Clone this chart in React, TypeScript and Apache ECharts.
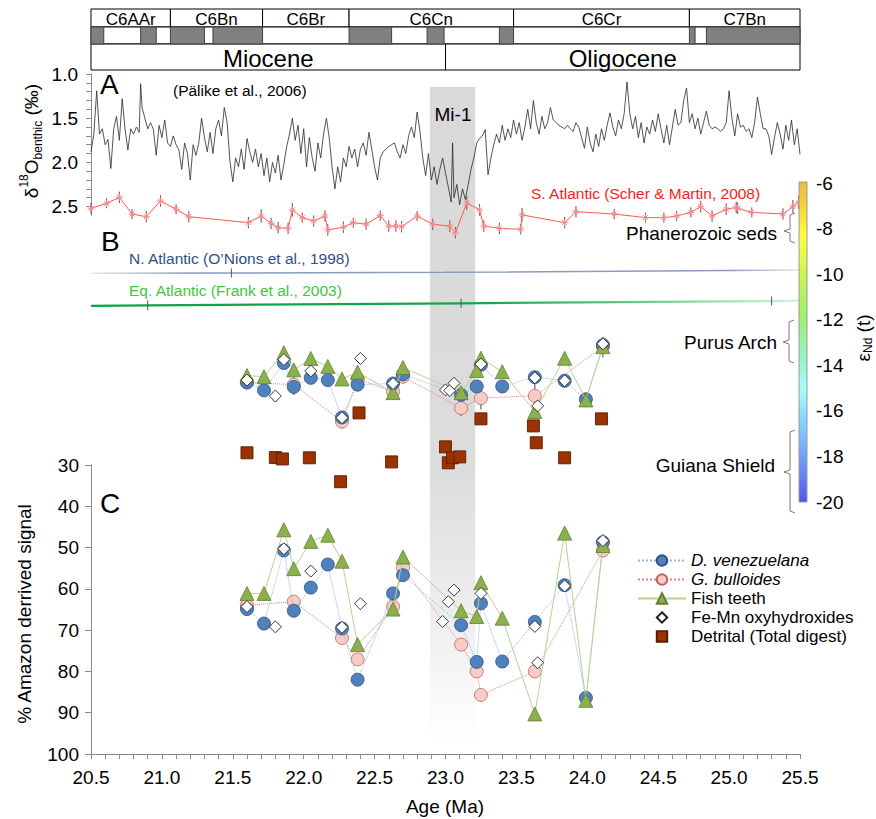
import React, { useEffect, useRef } from 'react';
import * as echarts from 'echarts';

const FONT = '"Liberation Sans", Arial, Helvetica, sans-serif';

// ---- Magnetostratigraphy / epochs ----
const chronNames = ['C6AAr', 'C6Bn', 'C6Br', 'C6Cn', 'C6Cr', 'C7Bn'];
const chronBounds = [20.5, 21.06, 21.71, 22.32, 23.48, 24.72, 25.5];
const normalPolarity: [number, number][] = [
  [20.5, 20.59], [20.85, 20.96], [21.06, 21.3], [21.36, 21.71], [22.32, 22.62],
  [22.87, 22.99], [23.38, 23.48], [24.72, 24.76], [24.84, 25.5],
];
const epochNames = ['Miocene', 'Oligocene'];
const epochBounds = [20.5, 23.0, 25.5];
const mi1Band: [number, number] = [22.89, 23.21];

// ---- Panel A: benthic d18O (Pälike et al., 2006) ----
const d18O: [number, number][] = [
  [20.50,1.88],[20.52,1.68],[20.54,1.19],[20.56,1.68],[20.58,1.62],[20.60,1.80],[20.62,1.74],[20.64,2.07],[20.66,1.62],[20.68,1.48],
  [20.70,1.75],[20.72,1.28],[20.74,1.62],[20.76,1.86],[20.78,1.62],[20.80,1.68],[20.82,1.60],[20.84,1.66],[20.85,1.11],[20.86,1.38],
  [20.88,1.50],[20.90,1.62],[20.92,1.55],[20.94,1.63],[20.96,1.92],[20.98,1.58],[21.00,1.72],[21.02,1.52],[21.04,1.78],[21.06,1.82],
  [21.08,1.70],[21.10,1.80],[21.12,1.86],[21.14,2.08],[21.16,1.78],[21.18,1.90],[21.20,2.20],[21.22,1.80],[21.24,1.92],[21.26,1.78],
  [21.28,1.50],[21.30,1.72],[21.32,1.88],[21.34,1.66],[21.36,1.90],[21.38,1.62],[21.40,1.52],[21.42,1.70],[21.44,1.38],[21.46,1.55],
  [21.48,1.99],[21.50,2.22],[21.52,1.95],[21.54,2.05],[21.56,1.85],[21.58,2.08],[21.60,1.73],[21.62,1.88],[21.64,2.00],[21.66,1.85],
  [21.68,2.05],[21.70,1.90],[21.72,2.15],[21.74,1.95],[21.76,2.22],[21.78,2.00],[21.80,2.12],[21.82,1.92],[21.84,2.20],[21.86,2.02],
  [21.88,1.82],[21.90,1.68],[21.92,1.50],[21.94,1.75],[21.96,1.58],[21.98,1.90],[22.00,1.62],[22.02,2.05],[22.04,1.72],[22.06,1.95],
  [22.08,2.10],[22.10,1.78],[22.12,1.95],[22.14,1.68],[22.16,1.50],[22.18,1.72],[22.20,2.05],[22.22,2.30],[22.24,2.05],[22.26,2.22],
  [22.28,1.95],[22.30,2.05],[22.32,1.82],[22.34,1.95],[22.36,1.85],[22.38,2.05],[22.40,1.85],[22.42,1.78],[22.44,1.92],[22.46,1.66],
  [22.48,1.85],[22.50,2.05],[22.52,2.20],[22.54,1.95],[22.56,1.88],[22.58,1.85],[22.60,1.82],[22.62,1.80],[22.64,1.78],[22.66,1.88],
  [22.68,1.95],[22.70,1.80],[22.72,1.90],[22.74,1.70],[22.76,1.60],[22.78,1.72],[22.80,1.43],[22.82,1.65],[22.84,1.95],[22.86,2.15],
  [22.88,1.90],[22.90,2.20],[22.92,2.05],[22.94,2.25],[22.96,2.08],[22.98,1.95],[23.00,2.12],[23.02,2.28],[23.04,2.45],[23.05,1.78],
  [23.06,2.40],[23.08,2.25],[23.10,2.48],[23.12,2.30],[23.14,2.42],[23.16,2.25],[23.18,2.08],[23.20,1.95],[23.22,1.78],[23.24,1.73],
  [23.26,1.70],[23.28,1.63],[23.30,2.14],[23.32,1.95],[23.34,1.80],[23.36,1.68],[23.38,1.78],[23.40,1.58],[23.42,1.75],[23.44,1.62],
  [23.46,1.72],[23.48,1.52],[23.50,1.68],[23.52,1.55],[23.54,1.75],[23.56,1.60],[23.58,1.40],[23.60,1.62],[23.62,1.30],[23.64,1.55],
  [23.66,1.68],[23.68,1.48],[23.70,1.62],[23.72,1.55],[23.74,1.38],[23.76,1.52],[23.78,1.55],[23.80,1.58],[23.82,1.60],[23.84,1.62],
  [23.86,1.58],[23.88,1.62],[23.90,1.65],[23.92,1.55],[23.94,1.60],[23.96,1.72],[23.98,1.84],[24.00,1.60],[24.02,1.78],[24.04,1.88],
  [24.06,1.68],[24.08,1.82],[24.10,1.62],[24.12,1.75],[24.14,1.58],[24.16,1.44],[24.18,1.60],[24.20,1.70],[24.22,1.52],[24.24,1.62],
  [24.26,1.45],[24.28,1.09],[24.30,1.45],[24.32,1.62],[24.34,1.48],[24.36,1.72],[24.38,1.55],[24.40,1.78],[24.42,1.60],[24.44,1.68],
  [24.46,1.52],[24.48,1.65],[24.50,1.45],[24.52,1.62],[24.54,1.78],[24.56,1.58],[24.58,1.80],[24.60,1.60],[24.62,1.40],[24.64,1.58],
  [24.66,1.55],[24.68,1.30],[24.70,1.16],[24.72,1.55],[24.74,1.45],[24.76,1.62],[24.78,1.50],[24.80,1.68],[24.82,1.55],[24.84,1.42],
  [24.86,1.58],[24.88,1.62],[24.90,1.60],[24.92,1.62],[24.94,1.65],[24.96,1.62],[24.98,1.55],[25.00,1.19],[25.02,1.50],[25.04,1.70],
  [25.06,1.45],[25.08,1.60],[25.10,1.58],[25.12,1.65],[25.14,1.62],[25.16,1.72],[25.18,1.55],[25.20,1.26],[25.22,1.45],[25.24,1.62],
  [25.26,1.62],[25.28,1.70],[25.30,1.91],[25.32,1.72],[25.34,1.55],[25.36,1.68],[25.38,1.85],[25.40,1.58],[25.42,1.75],[25.44,1.52],
  [25.46,1.80],[25.48,1.62],[25.50,1.91],
];

// ---- Panel B: seawater eNd records ----
const sAtlantic: [number, number][] = [
  [20.50,-7.11],[20.61,-6.89],[20.70,-6.63],[20.79,-7.36],[20.89,-7.48],[20.99,-6.79],[21.10,-7.15],[21.19,-7.48],[21.61,-7.74],[21.70,-7.45],
  [21.77,-7.77],[21.82,-7.96],[21.89,-7.99],[21.92,-7.18],[21.99,-7.52],[22.07,-7.67],[22.15,-7.45],[22.17,-8.06],[22.28,-7.94],[22.35,-7.74],
  [22.44,-7.81],[22.54,-7.43],[22.60,-7.89],[22.65,-7.89],[22.69,-7.92],[22.80,-7.45],[22.91,-7.81],[23.03,-7.89],[23.07,-8.18],[23.15,-6.87],
  [23.24,-7.18],[23.27,-7.89],[23.38,-7.99],[23.53,-8.03],[23.54,-7.40],[23.84,-7.74],[23.92,-7.26],[24.19,-7.36],[24.41,-7.52],[24.54,-7.52],
  [24.63,-7.45],[24.73,-7.29],[24.80,-7.04],[24.88,-7.45],[24.98,-7.15],[25.05,-7.07],[25.06,-7.11],[25.16,-7.29],[25.38,-7.36],[25.45,-7.04],
  [25.49,-6.85],
];
const sAtlanticErr = [
  0.25,0.22,0.25,0.22,0.25,0.25,0.22,0.25,0.25,0.3,
  0.25,0.25,0.25,0.3,0.22,0.25,0.25,0.25,0.25,0.22,
  0.25,0.22,0.25,0.25,0.25,0.22,0.25,0.25,0.25,0.3,
  0.25,0.25,0.25,0.22,0.3,0.25,0.25,0.22,0.22,0.22,
  0.22,0.22,0.25,0.25,0.25,0.25,0.25,0.22,0.25,0.3,
  0.3,
];
const nAtlanticLine: [number, number][] = [[20.50,-9.96],[21.49,-9.95],[23.00,-9.92],[25.50,-9.82]];
const nAtlanticPts: [number, number][] = [[21.49,-9.95]];
const nAtlanticErr = [0.2];
const eqAtlanticLine: [number, number][] = [[20.50,-11.39],[20.90,-11.37],[23.11,-11.28],[25.30,-11.18],[25.50,-11.16]];
const eqAtlanticPts: [number, number][] = [[20.90,-11.37],[23.11,-11.28],[25.30,-11.18]];
const eqAtlanticErr = [0.22,0.2,0.2];

// ---- Panel B: Ceara Rise eNd by fraction ----
const dvenB: [number, number][] = [
  [21.60,-14.75],[21.72,-15.10],[21.86,-13.90],[21.93,-14.95],[22.05,-14.55],[22.17,-14.65],[22.27,-16.29],[22.38,-14.85],[22.63,-14.80],
  [22.70,-14.40],[23.11,-15.30],[23.22,-14.93],[23.25,-13.98],[23.40,-14.93],[23.63,-14.52],[23.84,-14.68],[23.99,-15.49],[24.11,-13.11],
];
const gbulB: [number, number][] = [
  [21.60,-14.75],[21.93,-14.85],[22.27,-16.47],[22.38,-14.60],[22.63,-15.15],[22.70,-14.50],[23.11,-15.88],[23.25,-15.44],[23.63,-15.34],[24.11,-13.20],
];
const gbulBErr = [0.3, 0.45, 0.3, 0.35, 0.3, 0.3, 0.35, 0.5, 0.6, 0.45];
const fishB: [number, number][] = [
  [21.60,-14.45],[21.72,-14.50],[21.86,-13.45],[21.93,-14.20],[22.05,-13.70],[22.17,-14.05],[22.27,-14.60],[22.38,-14.30],[22.63,-15.20],
  [22.70,-14.10],[23.11,-15.20],[23.22,-14.23],[23.25,-13.69],[23.40,-14.28],[23.63,-16.03],[23.84,-13.69],[23.99,-15.52],[24.11,-13.18],
];
const feMnB: [number, number][] = [
  [21.60,-14.65],[21.80,-15.35],[21.86,-13.75],[22.05,-14.25],[22.27,-16.30],[22.40,-13.70],[22.63,-14.80],[23.00,-15.08],[23.03,-15.11],
  [23.06,-14.79],[23.25,-13.95],[23.63,-14.55],[23.65,-15.78],[23.84,-14.68],[24.11,-13.06],
];
const detritalB: [number, number][] = [
  [21.60,-17.84],[21.80,-18.05],[21.85,-18.11],[22.04,-18.06],[22.26,-19.11],[22.39,-16.09],[22.62,-18.24],[23.00,-17.58],
  [23.02,-18.28],[23.05,-18.06],[23.10,-18.02],[23.25,-16.35],[23.62,-16.66],[23.64,-17.40],[23.84,-18.06],[24.10,-16.35],
];

// ---- Panel C: % Amazon derived signal ----
const dvenC: [number, number][] = [
  [21.60,64.9],[21.72,68.4],[21.86,50.7],[21.93,65.3],[22.05,59.7],[22.17,54.1],[22.27,69.6],[22.38,82.0],[22.63,61.1],
  [22.70,56.7],[23.11,68.8],[23.22,77.7],[23.25,63.5],[23.40,77.6],[23.63,68.0],[23.84,59.1],[23.99,86.4],[24.11,48.7],
];
const gbulC: [number, number][] = [
  [21.60,64.0],[21.93,63.1],[22.27,71.9],[22.38,77.1],[22.63,64.3],[22.70,54.9],[23.11,73.5],[23.22,80.0],[23.25,85.7],[23.63,80.0],[24.11,50.7],
];
const fishC: [number, number][] = [
  [21.60,61.1],[21.72,61.1],[21.86,45.7],[21.93,55.1],[22.05,48.5],[22.17,47.0],[22.27,53.3],[22.38,73.5],[22.63,64.9],
  [22.70,52.3],[23.11,65.3],[23.22,66.7],[23.25,58.5],[23.40,67.1],[23.63,90.3],[23.84,46.5],[23.99,87.0],[24.11,49.5],
];
const feMnC: [number, number][] = [
  [21.60,64.3],[21.80,69.2],[21.86,50.3],[22.05,55.7],[22.27,69.3],[22.40,63.6],[22.98,67.9],[23.02,63.1],[23.06,60.3],
  [23.25,61.1],[23.63,69.1],[23.65,77.9],[23.84,59.3],[24.11,48.3],
];

const legendNames = ['D. venezuelana', 'G. bulloides', 'Fish teeth', 'Fe-Mn oxyhydroxides', 'Detrital (Total digest)'];

const isMultiple = (v: number, step: number) => Math.abs(v / step - Math.round(v / step)) < 1e-6;

function buildOption(): any {
  const L = 91, W = 709;
  const xBase = { type: 'value', min: 20.5, max: 25.5, show: false };

  const errData = [
    ...sAtlantic.map((p, i) => [p[0], p[1], sAtlanticErr[i]]),
    ...nAtlanticPts.map((p, i) => [p[0], p[1], nAtlanticErr[i]]),
    ...eqAtlanticPts.map((p, i) => [p[0], p[1], eqAtlanticErr[i]]),
  ];
  const gbulErrData = gbulB.map((p, i) => [p[0], p[1], gbulBErr[i]]);

  const errRender = (color: string) => (params: any, api: any) => {
    const x = api.value(0), y = api.value(1), e = api.value(2);
    const a = api.coord([x, y + e]);
    const b = api.coord([x, y - e]);
    return { type: 'line', shape: { x1: a[0], y1: a[1], x2: b[0], y2: b[1] }, style: { stroke: color, lineWidth: 1 } };
  };

  const noLine = { color: 'rgba(0,0,0,0)', width: 0, opacity: 0 };
  const styles = {
    dven: { symbol: 'circle', symbolSize: 13, itemStyle: { color: '#4f81bd', borderColor: '#2c5283', borderWidth: 0.8 }, lineStyle: { color: '#95b5e0', width: 1, type: 'dotted' } },
    gbul: { symbol: 'circle', symbolSize: 13, itemStyle: { color: '#f6cdc6', borderColor: '#c86060', borderWidth: 0.8 }, lineStyle: { color: '#ee7c7c', width: 1, type: 'dotted' } },
    fish: { symbol: 'triangle', symbolSize: 14, itemStyle: { color: '#8db04e', borderColor: '#5f7f2f', borderWidth: 0.8 }, lineStyle: { color: '#b8d190', width: 1, type: 'solid' } },
    feMn: { symbol: 'diamond', symbolSize: 12, itemStyle: { color: '#ffffff', borderColor: '#222', borderWidth: 0.9 }, lineStyle: noLine },
    det: { symbol: 'rect', symbolSize: 12, itemStyle: { color: '#9b3300', borderColor: '#5a1d00', borderWidth: 0.9 }, lineStyle: noLine },
  };

  const lineS = (name: string, data: any, st: any, xi: number, yi: number, z: number) => ({
    name, type: 'line', xAxisIndex: xi, yAxisIndex: yi, data, z, ...st, showSymbol: true,
  });

  const rowTop = [0, 18, 35];
  const rowBot = [18, 35, 61];

  const boxRender = (row: number, labels: string[] | null, fill: string, stroke: string, fontSize: number) =>
    (params: any, api: any) => {
      const a = api.coord([api.value(0), rowTop[row]]);
      const b = api.coord([api.value(1), rowBot[row]]);
      const children: any[] = [
        { type: 'rect', shape: { x: a[0], y: a[1], width: b[0] - a[0], height: b[1] - a[1] }, style: { fill, stroke, lineWidth: 1 } },
      ];
      if (labels) {
        children.push({
          type: 'text',
          style: {
            text: labels[params.dataIndex], x: (a[0] + b[0]) / 2, y: (a[1] + b[1]) / 2 + 1,
            align: 'center', verticalAlign: 'middle', textAlign: 'center', textVerticalAlign: 'middle',
            fontSize, fontFamily: FONT, fill: '#000',
          },
        });
      }
      return { type: 'group', children };
    };

  const txt = (text: string, x: number, y: number, fontSize: number, fill = '#000', align = 'left', extra: any = {}) => ({
    type: 'text', x, y, z: 100,
    style: { text, fontSize, fontFamily: FONT, fill, align, verticalAlign: 'middle', textAlign: align, textVerticalAlign: 'middle', ...extra },
  });
  const brace = (x: number, top: number, mid: number, bot: number) => ({
    type: 'polyline', z: 100,
    shape: { points: [[x + 5, top], [x, top + 2], [x, mid - 2], [x - 6, mid], [x, mid + 2], [x, bot - 2], [x + 5, bot]] },
    style: { stroke: '#7a7a7a', lineWidth: 1, fill: 'none' },
  });

  return {
    animation: false,
    backgroundColor: '#fff',
    grid: [
      { left: L, width: W, top: 9, height: 61 },
      { left: L, width: W, top: 74, height: 141.4 },
      { left: L, width: W, top: 183, height: 319 },
      { left: L, width: W, top: 465, height: 289 },
      { left: L, width: W, top: 87, height: 658 },
    ],
    xAxis: [
      { ...xBase, gridIndex: 0 },
      { ...xBase, gridIndex: 1 },
      { ...xBase, gridIndex: 2 },
      {
        type: 'value', gridIndex: 3, min: 20.5, max: 25.5, interval: 0.1,
        axisLine: { show: true, lineStyle: { color: '#8a8a8a', width: 1 } },
        axisTick: { show: true, length: 5, lineStyle: { color: '#8a8a8a' } },
        splitLine: { show: false },
        axisLabel: {
          fontSize: 19, fontFamily: FONT, color: '#000', margin: 14,
          formatter: (v: number) => (isMultiple(v, 0.5) ? v.toFixed(1) : ''),
        },
      },
      { ...xBase, gridIndex: 4 },
    ],
    yAxis: [
      { type: 'value', gridIndex: 0, min: 0, max: 61, inverse: true, show: false },
      {
        type: 'value', gridIndex: 1, min: 1.0, max: 2.6, interval: 0.1, inverse: true,
        axisLine: { show: true, lineStyle: { color: '#8a8a8a' } },
        axisTick: { show: true, length: 5, lineStyle: { color: '#8a8a8a' } },
        splitLine: { show: false },
        axisLabel: {
          fontSize: 19, fontFamily: FONT, color: '#000', margin: 13, showMaxLabel: false,
          formatter: (v: number) => (isMultiple(v, 0.5) ? v.toFixed(1) : ''),
        },
      },
      {
        type: 'value', gridIndex: 2, min: -20, max: -6, interval: 2, position: 'right',
        axisLine: { show: false }, axisTick: { show: false }, splitLine: { show: false },
        axisLabel: { fontSize: 19, fontFamily: FONT, color: '#000', margin: 16 },
      },
      {
        type: 'value', gridIndex: 3, min: 30, max: 100, interval: 10, inverse: true,
        axisLine: { show: true, lineStyle: { color: '#8a8a8a' } },
        axisTick: { show: true, length: 6, lineStyle: { color: '#8a8a8a' } },
        splitLine: { show: false },
        axisLabel: { fontSize: 19, fontFamily: FONT, color: '#000', margin: 12 },
      },
      { type: 'value', gridIndex: 4, min: 0, max: 1, show: false },
    ],
    legend: {
      data: legendNames,
      orient: 'vertical', left: 632, top: 547,
      itemWidth: 48, itemHeight: 13, itemGap: 2,
      selectedMode: false,
      textStyle: {
        fontSize: 17, fontFamily: FONT, color: '#000',
        rich: { i: { fontStyle: 'italic', fontSize: 17, fontFamily: FONT, color: '#000' } },
      },
      formatter: (n: string) => (n.startsWith('D.') || n.startsWith('G.') ? `{i|${n}}` : n),
    },
    graphic: [
      txt('A', 100, 84, 28),
      txt('(Pälike et al., 2006)', 173, 90, 15.5),
      txt('Mi-1', 453, 114, 19, '#000', 'center'),
      txt('S. Atlantic (Scher & Martin, 2008)', 531, 193, 15.5, '#ff1a1a'),
      txt('B', 101, 241, 28),
      txt('N. Atlantic (O\u2019Nions et al., 1998)', 129, 258, 15.5, '#2f4f86'),
      txt('Eq. Atlantic (Frank et al., 2003)', 129, 290, 15.5, '#3cc83c'),
      txt('Phanerozoic seds', 777, 233, 19, '#000', 'right'),
      txt('Purus Arch', 777, 342, 19, '#000', 'right'),
      txt('Guiana Shield', 775, 465, 19, '#000', 'right'),
      txt('C', 100, 503, 28),
      txt('Age (Ma)', 445, 806, 19, '#000', 'center'),
      brace(790, 213, 231, 243),
      brace(789, 320, 342, 363),
      brace(790, 430, 472, 513),
      {
        type: 'rect', z: 100,
        shape: { x: 799, y: 182, width: 8, height: 320 },
        style: {
          stroke: '#9a9a9a', lineWidth: 1,
          fill: {
            type: 'linear', x: 0, y: 0, x2: 0, y2: 1,
            colorStops: [
              { offset: 0, color: '#efb944' }, { offset: 0.08, color: '#f5d43e' }, { offset: 0.17, color: '#ffff40' },
              { offset: 0.3, color: '#c8f455' }, { offset: 0.42, color: '#9ef070' }, { offset: 0.55, color: '#96f3c8' },
              { offset: 0.65, color: '#a6fdfc' }, { offset: 0.75, color: '#86d2ff' }, { offset: 0.88, color: '#6c98f6' },
              { offset: 1, color: '#4f55ee' },
            ],
          },
        },
      },
      {
        type: 'text', x: 31, y: 141, rotation: Math.PI / 2, z: 100,
        style: {
          text: '{n|\u03b4}{sup|18}{n|O}{sub|benthic}{n| (\u2030)}',
          align: 'center', verticalAlign: 'middle', textAlign: 'center', textVerticalAlign: 'middle',
          fill: '#000', fontFamily: FONT, fontSize: 19,
          rich: {
            n: { fontSize: 19, fontFamily: FONT, lineHeight: 26, fill: '#000' },
            sup: { fontSize: 12, fontFamily: FONT, verticalAlign: 'top', fill: '#000' },
            sub: { fontSize: 12, fontFamily: FONT, verticalAlign: 'bottom', fill: '#000' },
          },
        },
      },
      {
        type: 'text', x: 24, y: 614, rotation: Math.PI / 2, z: 100,
        style: {
          text: '% Amazon derrived signal', fontSize: 19, fontFamily: FONT, fill: '#000',
          align: 'center', verticalAlign: 'middle', textAlign: 'center', textVerticalAlign: 'middle',
        },
      },
      {
        type: 'text', x: 863, y: 338, rotation: Math.PI / 2, z: 100,
        style: {
          text: '{n|\u03b5}{sub|Nd}{n| (t)}',
          align: 'center', verticalAlign: 'middle', textAlign: 'center', textVerticalAlign: 'middle',
          fill: '#000', fontFamily: FONT, fontSize: 19,
          rich: {
            n: { fontSize: 19, fontFamily: FONT, lineHeight: 22, fill: '#000' },
            sub: { fontSize: 12, fontFamily: FONT, verticalAlign: 'bottom', fill: '#000' },
          },
        },
      },
    ],
    series: [
      {
        type: 'line', xAxisIndex: 4, yAxisIndex: 4, data: [[mi1Band[0], 0.5]], symbol: 'none',
        lineStyle: { opacity: 0 }, silent: true, z: 0,
        markArea: {
          silent: true, z: 0,
          itemStyle: {
            color: {
              type: 'linear', x: 0, y: 0, x2: 0, y2: 1,
              colorStops: [
                { offset: 0, color: '#d9d9d9' }, { offset: 0.58, color: '#dcdcdc' },
                { offset: 0.8, color: '#eeeeee' }, { offset: 1, color: '#ffffff' },
              ],
            },
          },
          data: [[{ xAxis: mi1Band[0] }, { xAxis: mi1Band[1] }]],
        },
      },
      {
        type: 'custom', xAxisIndex: 0, yAxisIndex: 0, z: 10, silent: true,
        data: chronNames.map((_, i) => [chronBounds[i], chronBounds[i + 1]]),
        renderItem: boxRender(0, chronNames, '#fff', '#000', 17),
      },
      {
        type: 'custom', xAxisIndex: 0, yAxisIndex: 0, z: 10, silent: true,
        data: [[epochBounds[0], epochBounds[epochBounds.length - 1]]],
        renderItem: boxRender(1, null, '#fff', '#000', 16),
      },
      {
        type: 'custom', xAxisIndex: 0, yAxisIndex: 0, z: 11, silent: true,
        data: normalPolarity,
        renderItem: boxRender(1, null, '#808080', '#404040', 16),
      },
      {
        type: 'custom', xAxisIndex: 0, yAxisIndex: 0, z: 10, silent: true,
        data: epochNames.map((_, i) => [epochBounds[i], epochBounds[i + 1]]),
        renderItem: boxRender(2, epochNames, '#fff', '#000', 24),
      },
      {
        type: 'line', xAxisIndex: 1, yAxisIndex: 1, data: d18O, symbol: 'none', z: 3,
        lineStyle: { color: '#2a2a2a', width: 0.8 },
      },
      {
        type: 'custom', xAxisIndex: 2, yAxisIndex: 2, z: 4, silent: true, data: errData,
        renderItem: errRender('#555'),
      },
      {
        type: 'line', xAxisIndex: 2, yAxisIndex: 2, data: sAtlantic, z: 5,
        symbol: 'path://M5,0L5,10M0,5L10,5M1.5,1.5L8.5,8.5M8.5,1.5L1.5,8.5', symbolSize: 7,
        itemStyle: { color: 'rgba(0,0,0,0)', borderColor: '#ff8a8a', borderWidth: 1 },
        lineStyle: { color: '#ff5656', width: 1 },
      },
      {
        type: 'line', xAxisIndex: 2, yAxisIndex: 2, data: nAtlanticLine, symbol: 'none', z: 3,
        lineStyle: {
          width: 1.5,
          color: {
            type: 'linear', x: 0, y: 0, x2: 1, y2: 0,
            colorStops: [
              { offset: 0, color: '#e4e9f2' }, { offset: 0.14, color: '#8799bc' },
              { offset: 0.9, color: '#8c9dc0' }, { offset: 1, color: '#e2e8f2' },
            ],
          },
        },
      },
      {
        type: 'line', xAxisIndex: 2, yAxisIndex: 2, data: eqAtlanticLine, symbol: 'none', z: 3,
        lineStyle: {
          width: 2.2,
          color: {
            type: 'linear', x: 0, y: 0, x2: 1, y2: 0,
            colorStops: [
              { offset: 0, color: '#0aa448' }, { offset: 0.55, color: '#12a84c' },
              { offset: 0.82, color: '#7ad596' }, { offset: 1, color: '#d8f1de' },
            ],
          },
        },
      },
      lineS(legendNames[4], detritalB, styles.det, 2, 2, 6),
      {
        type: 'custom', xAxisIndex: 2, yAxisIndex: 2, z: 6.5, silent: true, data: gbulErrData,
        renderItem: errRender('#444'),
      },
      lineS(legendNames[1], gbulB, styles.gbul, 2, 2, 7),
      lineS(legendNames[0], dvenB, styles.dven, 2, 2, 8),
      lineS(legendNames[2], fishB, styles.fish, 2, 2, 9),
      lineS(legendNames[3], feMnB, styles.feMn, 2, 2, 10),
      lineS(legendNames[1], gbulC, styles.gbul, 3, 3, 7),
      lineS(legendNames[0], dvenC, styles.dven, 3, 3, 8),
      lineS(legendNames[2], fishC, styles.fish, 3, 3, 9),
      lineS(legendNames[3], feMnC, styles.feMn, 3, 3, 10),
    ],
  };
}

export default function App() {
  const ref = useRef<HTMLDivElement | null>(null);
  useEffect(() => {
    if (!ref.current) return;
    const chart = echarts.init(ref.current, undefined, { renderer: 'svg' });
    chart.setOption(buildOption());
    return () => chart.dispose();
  }, []);
  return (
    <div
      ref={ref}
      style={{ position: 'absolute', left: 0, top: 0, width: 876, height: 819, background: '#fff' }}
    />
  );
}
